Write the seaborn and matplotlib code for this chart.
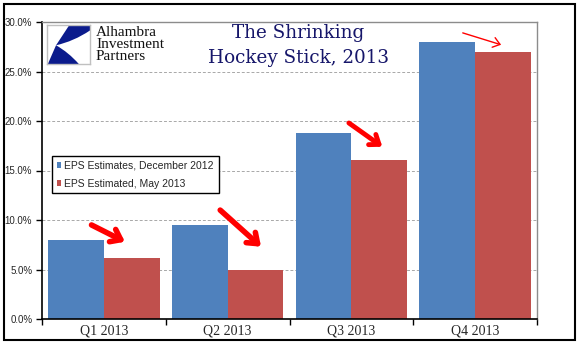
import numpy as np
import pandas as pd
import matplotlib
matplotlib.use('Agg')
import matplotlib.pyplot as plt
import seaborn as sns
from matplotlib.patches import Rectangle, PathPatch
from matplotlib.path import Path
from matplotlib.ticker import FuncFormatter, MultipleLocator

# data
quarters = ['Q1 2013', 'Q2 2013', 'Q3 2013', 'Q4 2013']
eps_dec_2012 = [8.0, 9.5, 18.8, 28.0]
eps_may_2013 = [6.2, 5.0, 16.1, 27.0]
series_names = ['EPS Estimates, December 2012', 'EPS Estimated, May 2013']
y_ticks = [0, 5, 10, 15, 20, 25, 30]

df = pd.DataFrame({
    'quarter': quarters * 2,
    'eps': eps_dec_2012 + eps_may_2013,
    'series': [series_names[0]] * 4 + [series_names[1]] * 4,
})

sns.set_style('white')
plt.rcParams['font.family'] = ['Liberation Sans', 'DejaVu Sans']

fig = plt.figure(figsize=(5.81, 3.61), dpi=100)
ax = fig.add_axes([42 / 581, 42 / 361, 495 / 581, 297 / 361])

sns.barplot(data=df, x='quarter', y='eps', hue='series', order=quarters,
            hue_order=series_names, palette=['#4F81BD', '#C0504D'],
            width=0.9, gap=0, saturation=1, errorbar=None, linewidth=0,
            ax=ax)

ax.set_xlim(-0.5, 3.5)
ax.set_ylim(0, 30)
ax.set_yticks(y_ticks)
ax.yaxis.set_major_formatter(FuncFormatter(lambda v, _: f'{v:.1f}%'))
ax.set_xlabel('')
ax.set_ylabel('')
ax.set_axisbelow(True)
ax.yaxis.grid(True, linestyle=(0, (3, 2)), color='#a8a8a8', lw=0.7)

for s in ['left', 'bottom']:
    ax.spines[s].set_color('black')
    ax.spines[s].set_linewidth(1.2)
for s in ['top', 'right']:
    ax.spines[s].set_color('#8c8c8c')
    ax.spines[s].set_linewidth(1.0)

ax.tick_params(axis='y', which='major', direction='out', length=4, width=1,
               color='black', left=True, labelsize=7, pad=3)
ax.tick_params(axis='x', which='major', length=0, pad=4)
ax.xaxis.set_minor_locator(MultipleLocator(1, offset=0.5))
ax.tick_params(axis='x', which='minor', direction='out', length=4, width=1,
               color='black', bottom=True)
for lbl in ax.get_xticklabels():
    lbl.set_fontfamily('Liberation Serif')
    lbl.set_fontsize(10)

leg = ax.legend(loc='upper left', bbox_to_anchor=(0.02, 0.548),
                fontsize=7.5, frameon=True, fancybox=False, framealpha=1,
                edgecolor='black', handlelength=0.45, handleheight=0.45,
                handletextpad=0.3, borderpad=0.45, labelspacing=0.75,
                borderaxespad=0)
leg.get_frame().set_linewidth(1.0)

# red arrows showing the cuts
arrows = [
    ((-0.10, 9.5), (0.17, 7.8), 4.0, 11),
    ((0.94, 11.0), (1.27, 7.3), 4.0, 11),
    ((1.98, 19.8), (2.25, 17.4), 3.5, 10),
    ((2.90, 28.9), (3.21, 27.7), 1.0, 8),
]
for start, end, lw, ms in arrows:
    ax.annotate('', xy=end, xytext=start,
                arrowprops=dict(arrowstyle='->,head_length=0.6,head_width=0.45',
                                color='#ff0000', lw=lw, mutation_scale=ms,
                                shrinkA=0, shrinkB=0))

# title
fig.text(298 / 581, 1 - 33 / 361, 'The Shrinking', ha='center', va='center',
         fontsize=13.2, family='DejaVu Serif', color='#16166a')
fig.text(298 / 581, 1 - 58 / 361, 'Hockey Stick, 2013', ha='center', va='center',
         fontsize=13.2, family='DejaVu Serif', color='#16166a')

# logo
logo = fig.add_axes([47 / 581, 1 - 64 / 361, 43 / 581, 39 / 361])
logo.set_xlim(0, 1)
logo.set_ylim(0, 1)
logo.set_xticks([])
logo.set_yticks([])
for s in logo.spines.values():
    s.set_color('#c0c0c0')
    s.set_linewidth(1.0)
tip = (0.21, 0.48)
verts = [(0.52, 1), (1, 1), (1, 0.86), (0.62, 0.58), tip,
         (0.5, 0.3), (0.74, 0.0), (0.02, 0.0), tip, (0.52, 1)]
codes = [Path.MOVETO, Path.LINETO, Path.LINETO, Path.CURVE3, Path.CURVE3,
         Path.CURVE3, Path.CURVE3, Path.LINETO, Path.LINETO, Path.CLOSEPOLY]
logo.add_patch(PathPatch(Path(verts, codes), facecolor='#0b1b8c', edgecolor='none'))
for i, word in enumerate(['Alhambra', 'Investment', 'Partners']):
    fig.text(96 / 581, 1 - (33 + 12 * i) / 361, word, ha='left', va='center',
             fontsize=11, family='Liberation Serif', color='#111111')

# outer frame
fig.patches.append(Rectangle((4 / 581, 21 / 361), 571 / 581, 336 / 361,
                             transform=fig.transFigure, fill=False,
                             edgecolor='black', lw=1.5))

fig.savefig('out.png', dpi=100, facecolor='white')
